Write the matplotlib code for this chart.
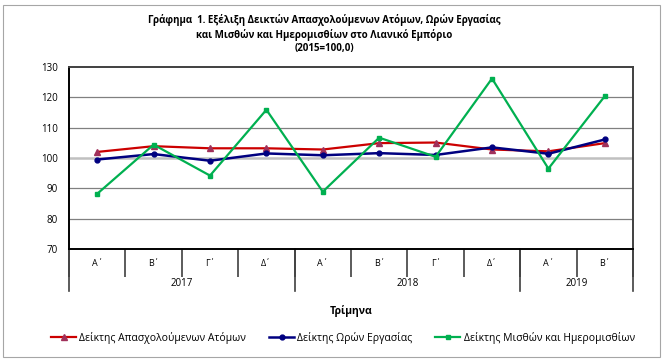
import matplotlib.pyplot as plt
from matplotlib.patches import Rectangle

plt.rcParams["font.family"] = ["Open Sans", "Noto Sans", "DejaVu Sans"]

quarters = ["Α΄", "Β΄", "Γ΄", "Δ΄", "Α΄", "Β΄", "Γ΄", "Δ΄", "Α΄", "Β΄"]
years = ["2017", "2018", "2019"]
year_spans = [(0, 4), (4, 8), (8, 10)]

employed = [102.0, 103.9, 103.2, 103.2, 102.8, 104.9, 105.1, 102.8, 102.2, 104.9]
hours = [99.5, 101.3, 99.1, 101.5, 100.9, 101.6, 101.0, 103.5, 101.4, 106.1]
wages = [88.2, 104.4, 94.2, 115.9, 88.9, 106.7, 100.4, 126.2, 96.5, 120.4]

labels = [
    "Δείκτης Απασχολούμενων Ατόμων",
    "Δείκτης Ωρών Εργασίας",
    "Δείκτης Μισθών και Ημερομισθίων",
]

W, H = 666, 363
fig = plt.figure(figsize=(W / 100, H / 100), dpi=100)

# outer frame
fig.patches.append(Rectangle((3 / W, 1 - 357 / H), 657 / W, 352 / H,
                             transform=fig.transFigure, fill=False,
                             edgecolor="#a6a6a6", linewidth=0.8))

ax = fig.add_axes([69 / W, 1 - 249 / H, (633 - 69) / W, (249 - 67) / H])

x = list(range(len(quarters)))

for v in [80, 90, 110, 120]:
    ax.axhline(v, color="#808080", linewidth=0.9, zorder=1)
ax.axhline(100, color="#c0c0c0", linewidth=1.8, zorder=1)

ax.plot(x, employed, color="#cc0000", linewidth=1.6, marker="^",
        markersize=4, markerfacecolor="#a0305a", markeredgecolor="#a0305a",
        label=labels[0], zorder=3)
ax.plot(x, hours, color="#000080", linewidth=1.8, marker="o",
        markersize=3.5, markerfacecolor="#000080", markeredgecolor="#000080",
        label=labels[1], zorder=4)
ax.plot(x, wages, color="#00b050", linewidth=1.6, marker="s",
        markersize=3.5, markerfacecolor="#00b050", markeredgecolor="#00b050",
        label=labels[2], zorder=5)

ax.set_xlim(-0.5, len(quarters) - 0.5)
ax.set_ylim(70, 130)
ax.set_yticks(range(70, 131, 10))
ax.tick_params(axis="y", length=0, labelsize=7, pad=8)
ax.set_xticks([i - 0.5 for i in range(len(quarters) + 1)])
ax.set_xticklabels([])
ax.tick_params(axis="x", length=20, width=1.2, color="#404040", direction="out")

for side in ["left", "bottom"]:
    ax.spines[side].set_color("black")
    ax.spines[side].set_linewidth(1.4)
for side in ["top", "right"]:
    ax.spines[side].set_color("#404040")
    ax.spines[side].set_linewidth(1.4)

trans = ax.get_xaxis_transform()
h_ax = 249 - 67
for i, q in enumerate(quarters):
    ax.text(i, -(263 - 249) / h_ax, q, transform=trans, ha="center",
            va="center", fontsize=6.5)

for (a, b), yr in zip(year_spans, years):
    ax.text((a + b - 1) / 2, -(284 - 249) / h_ax, yr, transform=trans,
            ha="center", va="center", fontsize=7)
for sep in [-0.5, 3.5, 7.5, 9.5]:
    ax.plot([sep, sep], [0, -(291 - 249) / h_ax], transform=trans,
            color="#404040", linewidth=1.2, clip_on=False)

fig.text(0.5 * (69 + 633) / W, 1 - 311 / H, "Τρίμηνα", ha="center",
         va="center", fontsize=7.5, fontweight="bold")

title = ("Γράφημα  1. Εξέλιξη Δεικτών Απασχολούμενων Ατόμων, Ωρών Εργασίας\n"
         "και Μισθών και Ημερομισθίων στο Λιανικό Εμπόριο\n"
         "(2015=100,0)")
fig.text(324 / W, 1 - 34 / H, title, ha="center", va="center",
         fontsize=7, fontweight="bold", linespacing=1.35)

fig.legend(loc="center", bbox_to_anchor=(343 / W, 1 - 338 / H), ncol=3,
           frameon=False, fontsize=7.5, handlelength=2.4, handletextpad=0.3,
           columnspacing=2.2, borderaxespad=0)

fig.savefig("out.png", dpi=100)
